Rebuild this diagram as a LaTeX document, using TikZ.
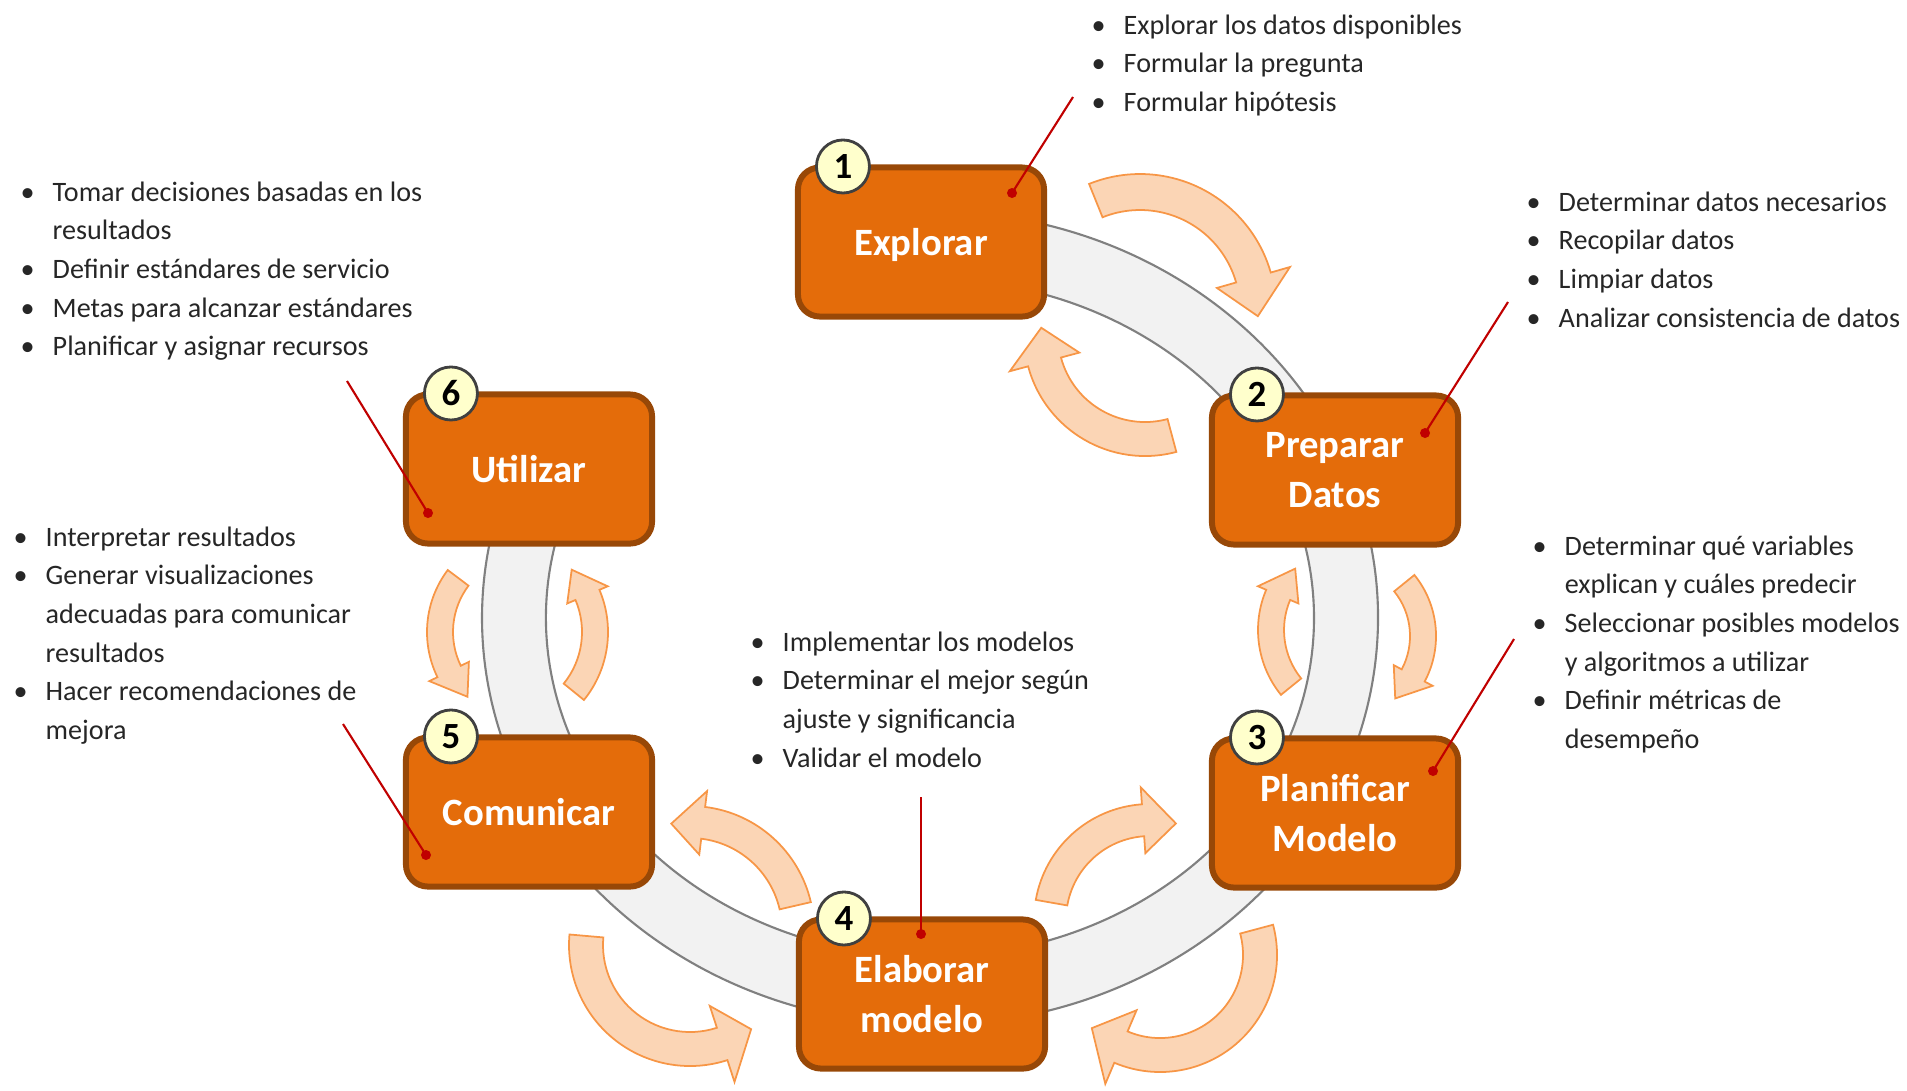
\documentclass[tikz,border=0pt]{standalone}
\usepackage{fontspec}
\setmainfont{Carlito}
\definecolor{naranja}{HTML}{E46C0A}
\definecolor{borde}{HTML}{984807}
\definecolor{durazno}{HTML}{FBD5B5}
\definecolor{contorno}{HTML}{F79646}
\definecolor{anillo}{HTML}{F2F2F2}
\definecolor{crema}{HTML}{FFFFCC}
\definecolor{guinda}{HTML}{C00000}
\newcommand{\bul}{\makebox[0.32cm][l]{\textbullet}}
\newcommand{\sig}{\hspace*{0.32cm}}
% centro x, centro y, radio, cola, base de punta, punta, media banda, media punta
\newcommand{\flechacurva}[8]{%
  \pgfmathsetmacro\radext{#3+#7}\pgfmathsetmacro\radint{#3-#7}%
  \pgfmathsetmacro\puntext{#3+#8}\pgfmathsetmacro\puntint{#3-#8}%
  \filldraw[flecha] ([shift={(#1,#2)}]#4:\radext) arc[start angle=#4,end angle=#5,radius=\radext]
    -- ([shift={(#1,#2)}]#5:\puntext) -- ([shift={(#1,#2)}]#6:#3)
    -- ([shift={(#1,#2)}]#5:\puntint) -- ([shift={(#1,#2)}]#5:\radint)
    arc[start angle=#5,end angle=#4,radius=\radint] -- cycle;}
\begin{document}
\begin{tikzpicture}[x=0.01cm,y=-0.01cm,
  caja/.style={draw=borde,line width=1.7pt,fill=naranja,rounded corners=0.22cm,
    minimum width=2.46cm,minimum height=1.49cm,text=white,align=center,text depth=0pt,
    font=\fontsize{11}{14.2}\selectfont\bfseries},
  num/.style={circle,draw=black!75,line width=0.8pt,fill=crema,minimum size=0.53cm,
    inner sep=0pt,font=\fontsize{10.5}{12}\selectfont\bfseries},
  lista/.style={anchor=north west,inner sep=0pt,align=left,text=black!85,
    font=\fontsize{8}{10.98}\selectfont},
  punto/.style={circle,fill=guinda,inner sep=0pt,minimum size=0.1cm},
  guia/.style={guinda,line width=0.6pt},
  flecha/.style={fill=durazno,draw=contorno,line width=0.5pt}]
\useasboundingbox (0,0) rectangle (1907,1090);
% anillo gris
\filldraw[fill=anillo,draw=black!50,line width=0.6pt]
  ([shift={(930,618)}]-85:448 and 407) arc[start angle=-85,end angle=205,x radius=448,y radius=407]
  -- ([shift={(930,618)}]205:384 and 339) arc[start angle=205,end angle=-85,x radius=384,y radius=339] -- cycle;
% flechas curvas
\flechacurva{1140}{310}{118}{-112}{-16}{3}{18}{38}
\flechacurva{1145}{335}{104}{75}{165}{184}{17}{36}
\flechacurva{1361}{630}{90}{141}{203}{223}{13}{22}
\flechacurva{1339}{636}{84}{-39}{28}{48}{13}{22}
\flechacurva{1150}{920}{100}{190}{266}{285}{16}{33}
\flechacurva{1160}{955}{100}{-15}{113}{133}{17}{40}
\flechacurva{690}{930}{108}{-13}{-83}{-100}{16}{32}
\flechacurva{690}{945}{104}{185}{72}{54}{17}{40}
\flechacurva{530}{632}{90}{217}{154}{134}{13}{22}
\flechacurva{500}{632}{95}{39}{-23}{-41}{13}{22}
% etapas
\node[caja] (b1) at (921,242) {Explorar};
\node[caja] (b2) at (1335,470) {Preparar\\Datos};
\node[caja] (b3) at (1335,813) {Planificar\\Modelo};
\node[caja] (b4) at (922,994) {Elaborar\\modelo};
\node[caja] (b5) at (529,812) {Comunicar};
\node[caja] (b6) at (529,469) {Utilizar};
\foreach \i in {1,...,6}
  \node[num] (n\i) at ([shift={(48,2)}]b\i.north west) {\i};
% llamadas
\node[punto] (d1) at (1012,193) {};
\node[punto] (d2) at (1425,433) {};
\node[punto] (d3) at (1433,771) {};
\node[punto] (d4) at (921,934) {};
\node[punto] (d5) at (426,855) {};
\node[punto] (d6) at (428,513) {};
\coordinate (c1) at (1073,97);
\coordinate (c2) at (1508,302);
\coordinate (c3) at (1514,639);
\coordinate (c4) at (921,797);
\coordinate (c5) at (343,724);
\coordinate (c6) at (347,381);
\foreach \i in {1,...,6}
  \draw[guia] (c\i) -- (d\i.center);
% textos
\node[lista] (t1) at (1091,14) {\bul Explorar los datos disponibles\\\bul Formular la pregunta\\\bul Formular hipótesis};
\node[lista] (t2) at (1526,191) {\bul Determinar datos necesarios\\\bul Recopilar datos\\\bul Limpiar datos\\\bul Analizar consistencia de datos};
\node[lista] (t3) at (1532,535) {\bul Determinar qué variables\\\sig explican y cuáles predecir\\\bul Seleccionar posibles modelos\\\sig y algoritmos a utilizar\\\bul Definir métricas de\\\sig desempeño};
\node[lista] (t4) at (750,631) {\bul Implementar los modelos\\\bul Determinar el mejor según\\\sig ajuste y significancia\\\bul Validar el modelo};
\node[lista] (t5) at (13,526) {\bul Interpretar resultados\\\bul Generar visualizaciones\\\sig adecuadas para comunicar\\\sig resultados\\\bul Hacer recomendaciones de\\\sig mejora};
\node[lista] (t6) at (20,181) {\bul Tomar decisiones basadas en los\\\sig resultados\\\bul Definir estándares de servicio\\\bul Metas para alcanzar estándares\\\bul Planificar y asignar recursos};
\end{tikzpicture}
\end{document}
